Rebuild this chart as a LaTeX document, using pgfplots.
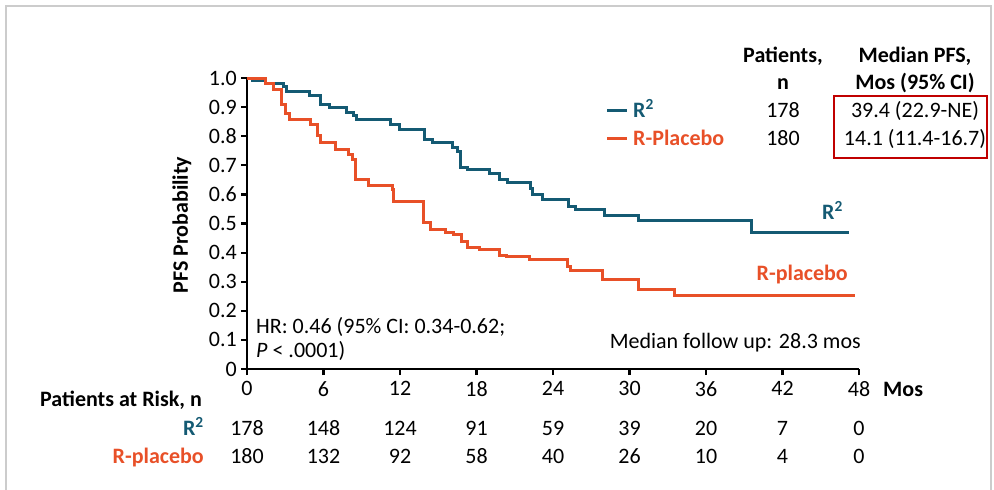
\documentclass[border=0pt]{standalone}
\usepackage{pgfplots}
\pgfplotsset{compat=1.18}
\usepackage{fontspec}
\setmainfont{Carlito}
\definecolor{rtwo}{RGB}{20,90,115}
\definecolor{rpla}{RGB}{232,80,40}
\definecolor{boxred}{RGB}{192,0,0}
\newcommand\fs{\fontsize{22}{26}\selectfont}
\begin{document}
\fs
\begin{tikzpicture}
\begin{scope}[x=1pt,y=-1pt]
\path[use as bounding box] (0,0) rectangle (994,490);
\draw[gray!40, line width=1.5pt] (6,490) -- (6,6) -- (991,6) -- (991,490);
% header
\node[anchor=base, font=\bfseries] at (783,62) {Patients,};
\node[anchor=base, font=\bfseries] at (783,89) {n};
\node[anchor=base, font=\bfseries] at (915,62) {Median PFS,};
\node[anchor=base, font=\bfseries] at (915,89) {Mos (95\% CI)};
\draw[rtwo, line width=3pt] (607,110) -- (627,110);
\draw[rpla, line width=3pt] (607,138) -- (627,138);
\node[anchor=base west, inner sep=0pt, font=\bfseries, text=rtwo] at (633,117) {R\textsuperscript{2}};
\node[anchor=base west, inner sep=0pt, font=\bfseries, text=rpla] at (633,145) {R-Placebo};
\node[anchor=base] at (783,117) {178};
\node[anchor=base] at (783,145) {180};
\node[anchor=base] at (915,117) {39.4 (22.9-NE)};
\node[anchor=base] at (915,145) {14.1 (11.4-16.7)};
\draw[boxred, line width=2pt] (834,96) rectangle (987,158);
% curve labels
\node[anchor=base east, inner sep=0pt, font=\bfseries, text=rtwo] at (843,219) {R\textsuperscript{2}};
\node[anchor=base east, inner sep=0pt, font=\bfseries, text=rpla] at (848,280) {R-placebo};
% annotations
\node[anchor=base west, inner sep=0pt] at (256,333) {HR: 0.46 (95\% CI: 0.34-0.62;};
\node[anchor=base west, inner sep=0pt] at (256,357) {\textit{P} < .0001)};
\node[anchor=base east, inner sep=0pt] at (861,348) {Median follow up: 28.3 mos};
\node[anchor=base west, inner sep=0pt, font=\bfseries] at (883,396) {Mos};
\node[rotate=90, font=\bfseries] at (182,225) {PFS Probability};
% risk table labels
\node[anchor=base west, inner sep=0pt, font=\bfseries] at (40,406) {Patients at Risk, n};
\node[anchor=base east, inner sep=0pt, font=\bfseries, text=rtwo] at (204,435) {R\textsuperscript{2}};
\node[anchor=base east, inner sep=0pt, font=\bfseries, text=rpla] at (204,463) {R-placebo};
\end{scope}
\begin{axis}[
  at={(247pt,-369pt)}, anchor=south west,
  scale only axis, width=612pt, height=291pt,
  xmin=0, xmax=48, ymin=0, ymax=1,
  enlargelimits=false,
  axis lines=left,
  axis line style={-, line width=2.6pt, black},
  xtick={0,6,12,18,24,30,36,42,48},
  xticklabels={0,6,12,18,24,30,36,42,48},
  ytick={0,0.1,0.2,0.3,0.4,0.5,0.6,0.7,0.8,0.9,1},
  yticklabels={0,0.1,0.2,0.3,0.4,0.5,0.6,0.7,0.8,0.9,1.0},
  tick align=outside,
  major tick length=6pt,
  tick style={line width=2.2pt, black},
  tick label style={font=\fs},
  /pgf/number format/assume math mode=true,
  yticklabel style={anchor=east, inner sep=0pt, xshift=-4pt},
  xticklabel style={anchor=north, inner sep=0pt, yshift=-6pt},
  clip=false,
]
\addplot[const plot, rtwo, line width=3pt] coordinates {
(0,1.0) (0.4,0.99) (1.42,0.98) (2.86,0.972) (3.12,0.953) (4.88,0.941)
(5.74,0.910) (6.45,0.899) (7.79,0.881) (8.37,0.871) (8.55,0.859)
(11.25,0.839) (11.99,0.822) (13.93,0.787) (14.53,0.777) (16.1,0.762)
(16.5,0.747) (16.76,0.693) (17.28,0.686) (18.99,0.673) (19.77,0.652)
(20.43,0.642) (22.2,0.619) (22.4,0.599) (23.2,0.581) (25.2,0.560)
(25.8,0.547) (28.0,0.529) (30.7,0.510) (39.6,0.469) (47.2,0.469)
};
\addplot[const plot, rpla, line width=3pt] coordinates {
(0,1.0) (1.42,0.98) (2.07,0.96) (2.68,0.910) (3.04,0.878) (3.33,0.857)
(4.96,0.839) (5.53,0.802) (5.80,0.777) (6.92,0.756) (7.97,0.736)
(8.29,0.721) (8.50,0.650) (9.55,0.629) (11.38,0.617) (11.51,0.576)
(13.85,0.503) (14.4,0.479) (15.58,0.470) (16.16,0.461) (16.81,0.437)
(17.33,0.418) (18.2,0.411) (19.77,0.391) (20.35,0.385) (22.13,0.376)
(25.15,0.352) (25.4,0.338) (27.9,0.308) (30.7,0.274) (33.5,0.251)
(47.7,0.251)
};
% numbers at risk
\node[anchor=base] at (axis cs:0,-0.2268) {178};
\node[anchor=base] at (axis cs:6,-0.2268) {148};
\node[anchor=base] at (axis cs:12,-0.2268) {124};
\node[anchor=base] at (axis cs:18,-0.2268) {91};
\node[anchor=base] at (axis cs:24,-0.2268) {59};
\node[anchor=base] at (axis cs:30,-0.2268) {39};
\node[anchor=base] at (axis cs:36,-0.2268) {20};
\node[anchor=base] at (axis cs:42,-0.2268) {7};
\node[anchor=base] at (axis cs:48,-0.2268) {0};
\node[anchor=base] at (axis cs:0,-0.323) {180};
\node[anchor=base] at (axis cs:6,-0.323) {132};
\node[anchor=base] at (axis cs:12,-0.323) {92};
\node[anchor=base] at (axis cs:18,-0.323) {58};
\node[anchor=base] at (axis cs:24,-0.323) {40};
\node[anchor=base] at (axis cs:30,-0.323) {26};
\node[anchor=base] at (axis cs:36,-0.323) {10};
\node[anchor=base] at (axis cs:42,-0.323) {4};
\node[anchor=base] at (axis cs:48,-0.323) {0};
\end{axis}
\end{tikzpicture}
\end{document}
